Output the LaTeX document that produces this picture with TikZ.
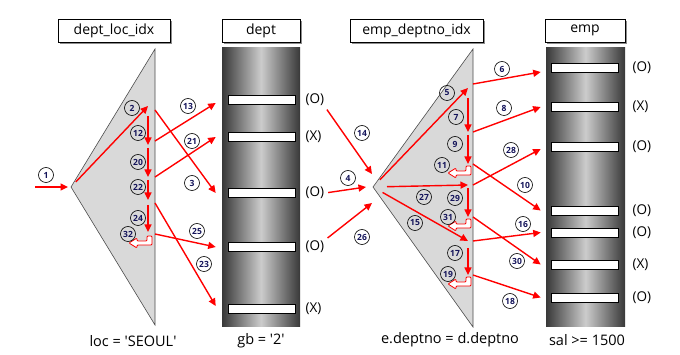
\documentclass[tikz,border=0pt]{standalone}
\usepackage{fontspec}
\setmainfont{Open Sans}
\usetikzlibrary{arrows.meta, positioning, shadows}

\definecolor{numblue}{RGB}{20,20,90}

\tikzset{
	redarrow/.style={-{Triangle[length=7.5pt,width=7pt]}, red, line width=1.4pt},
	num/.style={draw, circle, line width=0.6pt, inner sep=0pt, minimum size=15pt, font=\bfseries\fontsize{8.5}{8.5}\selectfont, text=numblue},
	headbox/.style={draw, rectangle, fill=white, line width=0.6pt, minimum height=23pt, font=\fontsize{14}{14}\selectfont, drop shadow={shadow xshift=2pt, shadow yshift=-2pt, fill=black!45, opacity=1}},
	bar/.style={draw, rectangle, fill=white, line width=0.6pt, minimum width=67pt, minimum height=9pt, inner sep=0pt},
	tag/.style={font=\fontsize{13.5}{13.5}\selectfont, inner sep=1pt},
	cond/.style={font=\fontsize{14.5}{14.5}\selectfont, inner sep=1pt},
	uturn/.pic={\draw[red, fill=white, line width=0.8pt, rounded corners=1pt] (0,0) -- (0,9) -- (-15,9) -- (-15,12) -- (-23,7) -- (-15,2) -- (-15,5) -- (-5,5) -- (-5,0) -- cycle;}
}

\begin{document}
\begin{tikzpicture}[x=1pt, y=-1pt, >=Stealth]
	\useasboundingbox (0,0) rectangle (680,355);

	% index and table shapes
	\coordinate (lapex) at (71,187);
	\coordinate (rapex) at (373,187);
	\draw[fill=black!15, draw=black!70, line width=0.6pt] (lapex) -- (155,49) -- (155,325) -- cycle;
	\draw[fill=black!15, draw=black!70, line width=0.6pt] (rapex) -- (473,49) -- (473,327) -- cycle;
	\shade[left color=black!78, right color=black!78, middle color=black!20] (222,48) rectangle (300,327);
	\shade[left color=black!78, right color=black!78, middle color=black!20] (546,48) rectangle (625,327);

	\node[headbox, minimum width=112pt] (lidx) at (114,30.5) {dept\_loc\_idx};
	\node[headbox, minimum width=78pt] (dept) at (261,30.5) {dept};
	\node[headbox, minimum width=133pt] (ridx) at (416.5,30.5) {emp\_deptno\_idx};
	\node[headbox, minimum width=80pt] (emp) at (585,30.5) {emp};

	\node[bar] (d1) at (261.5,100) {};
	\node[bar] (d2) at (261.5,137) {};
	\node[bar] (d3) at (261.5,193) {};
	\node[bar] (d4) at (261.5,247) {};
	\node[bar] (d5) at (261.5,309) {};
	\node[tag, right=9pt of d1] (od1) {(O)};
	\node[tag, right=9pt of d2] (od2) {(X)};
	\node[tag, right=9pt of d3] (od3) {(O)};
	\node[tag, right=9pt of d4] (od4) {(O)};
	\node[tag, right=9pt of d5] (od5) {(X)};

	\node[bar] (e1) at (584.5,68) {};
	\node[bar] (e2) at (584.5,107) {};
	\node[bar] (e3) at (584.5,147) {};
	\node[bar] (e4) at (584.5,210.5) {};
	\node[bar] (e5) at (584.5,232.5) {};
	\node[bar] (e6) at (584.5,264.5) {};
	\node[bar] (e7) at (584.5,297.5) {};
	\node[tag, right=13pt of e1] (oe1) {(O)};
	\node[tag, right=13pt of e2] (oe2) {(X)};
	\node[tag, right=13pt of e3] (oe3) {(O)};
	\node[tag, right=13pt of e4] (oe4) {(O)};
	\node[tag, right=13pt of e5] (oe5) {(O)};
	\node[tag, right=13pt of e6] (oe6) {(X)};
	\node[tag, right=13pt of e7] (oe7) {(O)};

	\node[cond] (lcond) at (133,341) {loc = \textquotesingle SEOUL\textquotesingle};
	\node[cond] (dcond) at (261,341) {gb = \textquotesingle 2\textquotesingle};
	\node[cond] (rcond) at (450,340) {e.deptno = d.deptno};
	\node[cond] (econd) at (587,340) {sal >= 1500};

	% scan points in the indexes
	\coordinate (start) at (35,187);
	\coordinate (ka) at (148,106);
	\coordinate (kb) at (148,145);
	\coordinate (kc) at (148,177);
	\coordinate (kd) at (148,200);
	\coordinate (ke) at (148,232);
	\coordinate (ra) at (468,88);
	\coordinate (rb) at (468,132);
	\coordinate (rc) at (468,164);
	\coordinate (rd) at (468,185);
	\coordinate (re) at (468,217);
	\coordinate (rf) at (468,241);
	\coordinate (rg) at (468,275);
	\coordinate (r14) at (372,174);
	\coordinate (r4) at (366,187);
	\coordinate (r26) at (372,203);

	% left index
	\draw[redarrow, shorten >=3pt] (start) -- (lapex);
	\draw[redarrow, shorten <=7pt] (lapex) -- (ka);
	\draw[redarrow, shorten <=10pt] (ka) -- (kb);
	\draw[redarrow, shorten <=3pt] (kb) -- (kc);
	\draw[redarrow, shorten <=3pt] (kc) -- (kd);
	\draw[redarrow, shorten <=5pt] (kd) -- (ke);
	\pic at (152,236) {uturn};

	\draw[redarrow] ([xshift=7pt,yshift=-4pt]ka) -- ([xshift=-12pt]d3.west);
	\draw[redarrow] ([xshift=7pt,yshift=4pt]kb) -- ([xshift=-12pt,yshift=-3pt]d1.west);
	\draw[redarrow] ([xshift=7pt]kc) -- ([xshift=-12pt]d2.west);
	\draw[redarrow] ([xshift=7pt,yshift=-3pt]kd) -- ([xshift=-12pt,yshift=3pt]d5.west);
	\draw[redarrow] ([xshift=7pt,yshift=-2pt]ke) -- ([xshift=-12pt]d4.west);

	% dept to right index
	\draw[redarrow, shorten <=3pt] (od1.south east) -- (r14);
	\draw[redarrow, shorten <=3pt] (od3.east) -- (r4);
	\draw[redarrow, shorten <=3pt] (od4.north east) -- (r26);

	% right index
	\draw[redarrow, shorten <=10pt] (rapex) -- (ra);
	\draw[redarrow, shorten <=14pt] (rapex) -- (rd);
	\draw[redarrow, shorten <=11pt] (rapex) -- (rf);
	\draw[redarrow, shorten <=10pt] (ra) -- (rb);
	\draw[redarrow, shorten <=3pt] (rb) -- (rc);
	\draw[redarrow, shorten <=3pt] (rd) -- (re);
	\draw[redarrow, shorten <=7pt] (rf) -- (rg);
	\pic at (471,166) {uturn};
	\pic at (471,219) {uturn};
	\pic at (471,277) {uturn};

	\draw[redarrow] ([xshift=5pt,yshift=4pt]ra) -- ([xshift=-10pt,yshift=-4pt]e1.west);
	\draw[redarrow] ([xshift=5pt]rb) -- ([xshift=-10pt]e2.west);
	\draw[redarrow] ([xshift=5pt]rc) -- ([xshift=-10pt]e4.west);
	\draw[redarrow] ([xshift=5pt]rd) -- ([xshift=-10pt,yshift=-2pt]e3.west);
	\draw[redarrow] ([xshift=5pt]re) -- ([xshift=-10pt]e6.west);
	\draw[redarrow] ([xshift=5pt]rf) -- ([xshift=-10pt]e5.west);
	\draw[redarrow] ([xshift=5pt]rg) -- ([xshift=-10pt]e7.west);

	% step numbers
	\node[num] (n1) at (46,175) {1};
	\node[num] (n2) at (132,108) {2};
	\node[num] (n12) at (138,133) {12};
	\node[num] (n20) at (138,162) {20};
	\node[num] (n22) at (138,187) {22};
	\node[num] (n24) at (138,218) {24};
	\node[num] (n32) at (128,234) {32};
	\node[num] (n13) at (188,106) {13};
	\node[num] (n21) at (192,141) {21};
	\node[num] (n3) at (192,183) {3};
	\node[num] (n25) at (197,231) {25};
	\node[num] (n23) at (204,264) {23};
	\node[num] (n14) at (362,133) {14};
	\node[num] (n4) at (348,178) {4};
	\node[num] (n26) at (362,237) {26};
	\node[num] (n5) at (447,93) {5};
	\node[num] (n7) at (456,117) {7};
	\node[num] (n9) at (455,144) {9};
	\node[num] (n11) at (442,165) {11};
	\node[num] (n27) at (424,197) {27};
	\node[num] (n29) at (455,198) {29};
	\node[num] (n31) at (448,217) {31};
	\node[num] (n15) at (415,223) {15};
	\node[num] (n17) at (455,253) {17};
	\node[num] (n19) at (448,274) {19};
	\node[num] (n6) at (502,69) {6};
	\node[num] (n8) at (504,108) {8};
	\node[num] (n28) at (511,150) {28};
	\node[num] (n10) at (525,185) {10};
	\node[num] (n16) at (523,224) {16};
	\node[num] (n30) at (517,261) {30};
	\node[num] (n18) at (510,301) {18};
\end{tikzpicture}
\end{document}
